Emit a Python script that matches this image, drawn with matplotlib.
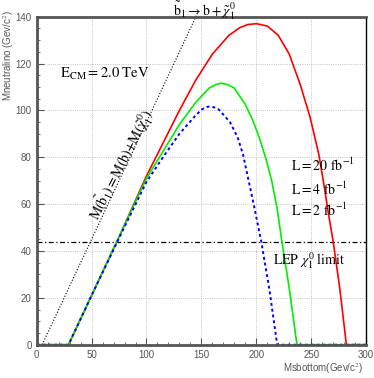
import numpy as np
import matplotlib
matplotlib.use('Agg')
import matplotlib.pyplot as plt
from matplotlib.ticker import MultipleLocator

plt.rcParams['mathtext.fontset'] = 'stix'
plt.rcParams['font.family'] = ['Liberation Sans', 'DejaVu Sans']

# reach curves (Msbottom, Mneutralino)
red_x = [0, 29, 50, 75, 100, 115, 130, 145, 160, 175, 185, 192, 200, 210, 220, 230, 240, 249, 257, 262, 266, 270, 276, 282, 300]
red_y = [0, 0, 21, 46, 72, 86, 100, 113, 124, 132, 135.3, 136.6, 137, 136, 132, 124, 111, 97, 81, 67, 55, 44, 24, 0, 0]

green_x = [0, 29, 50, 75, 100, 115, 130, 145, 157, 163, 168, 174, 180, 190, 197, 203, 209, 214, 219, 223, 230, 237, 300]
green_y = [0, 0, 21, 46, 71, 82.5, 94, 103.5, 109.5, 111, 111.6, 111, 109.5, 102.5, 95.5, 88, 79, 70, 58, 45, 24, 0, 0]

blue_x = [0, 29, 50, 75, 100, 115, 130, 145, 151, 156, 161, 166, 176, 183, 188, 193, 198, 204.5, 212, 219, 300]
blue_y = [0, 0, 21, 45.5, 69.5, 80, 90, 98, 100.6, 101.6, 101.4, 100.3, 95, 88.5, 81, 70, 59, 44, 23.3, 0, 0]

kin_x = [5, 147]
kin_y = [0, 142]

lep_limit = 44

fig = plt.figure(figsize=(3.74, 3.78), dpi=100)
ax = fig.add_axes([0.098, 0.088, 0.881, 0.868])

ax.grid(True, color='#b0b0b0', linestyle=':', linewidth=0.6)
ax.set_axisbelow(True)

ax.plot(kin_x, kin_y, color='black', linestyle=':', linewidth=0.8, clip_on=False)
ax.axhline(lep_limit, color='black', linestyle=(0, (4, 2, 1, 2)), linewidth=0.9)
ax.plot(red_x, red_y, color='#ff0000', linewidth=1.2)
ax.plot(green_x, green_y, color='#00ee00', linewidth=1.2)
ax.plot(blue_x, blue_y, color='#0000ff', linestyle=(0, (1.5, 1.5)), linewidth=1.4)

ax.set_xlim(0, 300)
ax.set_ylim(0, 140)
ax.xaxis.set_major_locator(MultipleLocator(50))
ax.xaxis.set_minor_locator(MultipleLocator(10))
ax.yaxis.set_major_locator(MultipleLocator(20))
ax.yaxis.set_minor_locator(MultipleLocator(5))
ax.tick_params(which='both', direction='in', labelsize=7, labelcolor='#555555',
               color='#555555', top=False, right=False)
ax.tick_params(which='major', length=5)
ax.tick_params(which='minor', length=2.5)

for side in ['left', 'bottom', 'top']:
    ax.spines[side].set_linewidth(2)
    ax.spines[side].set_color('#555555')
ax.spines['right'].set_linewidth(1)

fig.text(0.002, 0.975, 'Mneutralino (Gev/c$^2$)', fontsize=7, color='#555555',
         rotation=90, ha='left', va='top')
fig.text(0.972, 0.006, 'Msbottom(Gev/c$^2$)', fontsize=7, color='#555555',
         ha='right', va='bottom')

ax.text(21, 114, r'$\mathrm{E_{CM}{=}2.0\ TeV}$', fontsize=10.5)
ax.text(77, 76.8, r'$\mathrm{M(\tilde{b}_1){=}M(b){+}M(\tilde{\chi}^0_1)}$', fontsize=10,
        rotation=63, ha='center', va='center', rotation_mode='anchor')
ax.text(153, 142.4, r'$\tilde{\mathrm{b}}_1 \rightarrow \mathrm{b} + \tilde{\chi}^0_1$',
        fontsize=10, ha='center', va='center', clip_on=False)
ax.text(232, 76.5, r'$\mathrm{L{=}20\ fb^{-1}}$', fontsize=10, va='center')
ax.text(232, 66.5, r'$\mathrm{L{=}4\ fb^{-1}}$', fontsize=10, va='center')
ax.text(232, 57.5, r'$\mathrm{L{=}2\ fb^{-1}}$', fontsize=10, va='center')
ax.text(215, 36, r'$\mathrm{LEP}\ \chi^0_1\ \mathrm{limit}$', fontsize=10, va='center')

fig.savefig('out.png', dpi=100)
